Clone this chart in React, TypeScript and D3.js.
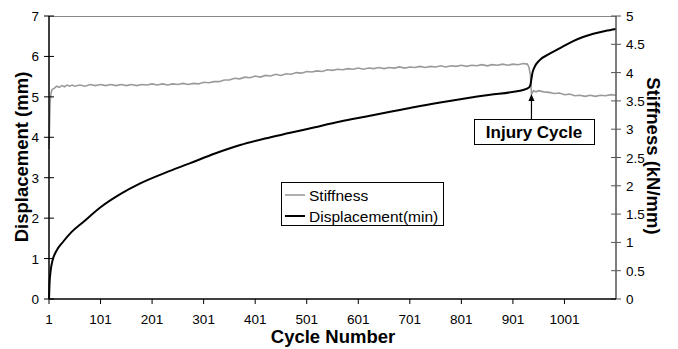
import React, { useEffect, useRef } from 'react'
import * as d3 from 'd3'

// cycle numbers shown on the x axis
const xTickLabels = [1, 101, 201, 301, 401, 501, 601, 701, 801, 901, 1001]
const leftTicks = [0, 1, 2, 3, 4, 5, 6, 7]
const rightTicks = [0, 0.5, 1, 1.5, 2, 2.5, 3, 3.5, 4, 4.5, 5]

// displacement (mm): [cycle, value]
const displacement: [number, number][] = [
  [1, 0], [2, 0.38], [4, 0.68], [8, 0.96], [15, 1.18], [28, 1.41], [45, 1.66],
  [67, 1.9], [101, 2.27], [140, 2.6], [178, 2.86], [226, 3.12], [275, 3.36],
  [323, 3.6], [372, 3.81], [420, 3.97], [469, 4.11], [517, 4.25], [566, 4.39],
  [614, 4.51], [663, 4.63], [711, 4.75], [760, 4.86], [808, 4.96], [857, 5.05],
  [900, 5.12], [921, 5.17], [932, 5.23], [935, 5.3], [937, 5.45], [939, 5.6],
  [942, 5.71], [953, 5.91], [970, 6.05], [986, 6.16], [1000, 6.26],
  [1018, 6.38], [1037, 6.48], [1057, 6.56], [1080, 6.63], [1101, 6.68],
]

// stiffness (kN/mm): [cycle, value]
const stiffness: [number, number][] = [
  [1, 2.65], [3, 3.45], [5, 3.64], [7, 3.7], [11, 3.72], [16, 3.76], [21, 3.74],
  [26, 3.77], [31, 3.75], [36, 3.78], [41, 3.76], [46, 3.78], [51, 3.76],
  [61, 3.78], [71, 3.76], [81, 3.79], [91, 3.77], [101, 3.79], [111, 3.77],
  [121, 3.79], [131, 3.77], [141, 3.79], [151, 3.77], [161, 3.79], [171, 3.77],
  [181, 3.79], [191, 3.78], [201, 3.8], [211, 3.78], [221, 3.8], [231, 3.78],
  [241, 3.8], [251, 3.79], [261, 3.81], [271, 3.79], [281, 3.81], [291, 3.8],
  [301, 3.83], [311, 3.82], [321, 3.84], [331, 3.84], [341, 3.87], [351, 3.87],
  [361, 3.9], [371, 3.89], [381, 3.92], [391, 3.91], [401, 3.94], [411, 3.92],
  [421, 3.95], [431, 3.94], [441, 3.97], [451, 3.95], [461, 3.98], [471, 3.97],
  [481, 4.0], [491, 3.99], [501, 4.02], [511, 4.01], [521, 4.03], [531, 4.02],
  [541, 4.05], [551, 4.04], [561, 4.06], [571, 4.05], [581, 4.07], [591, 4.06],
  [601, 4.08], [611, 4.06], [621, 4.08], [631, 4.07], [641, 4.09], [651, 4.07],
  [661, 4.09], [671, 4.08], [681, 4.1], [691, 4.08], [701, 4.1], [711, 4.09],
  [721, 4.11], [731, 4.09], [741, 4.11], [751, 4.1], [761, 4.12], [771, 4.1],
  [781, 4.12], [791, 4.11], [801, 4.13], [811, 4.11], [821, 4.13], [831, 4.12],
  [841, 4.14], [851, 4.12], [861, 4.14], [871, 4.13], [881, 4.15], [891, 4.13],
  [901, 4.15], [911, 4.14], [921, 4.16], [929, 4.15], [932, 4.1], [935, 3.95],
  [937, 3.62], [941, 3.68], [946, 3.66], [951, 3.68], [961, 3.66], [971, 3.65],
  [981, 3.63], [991, 3.64], [1001, 3.61], [1011, 3.62], [1021, 3.59],
  [1031, 3.6], [1041, 3.58], [1051, 3.6], [1061, 3.58], [1071, 3.6],
  [1081, 3.59], [1091, 3.61], [1101, 3.6],
]

const seriesNames = ['Stiffness', 'Displacement(min)']
const injuryCycle = 937

const W = 678
const H = 349
const margin = { top: 16, right: 62, bottom: 50, left: 49 }
const font = 'Arial, "Liberation Sans", sans-serif'

const App = () => {
  const svgRef = useRef<SVGSVGElement>(null)

  useEffect(() => {
    const svg = d3.select(svgRef.current)
    svg.selectAll('*').remove()

    const x0 = margin.left
    const x1 = W - margin.right
    const y0 = H - margin.bottom
    const y1 = margin.top

    const x = d3.scaleLinear().domain([1, 1101]).range([x0, x1])
    const yL = d3.scaleLinear().domain([0, 7]).range([y0, y1])
    const yR = d3.scaleLinear().domain([0, 5]).range([y0, y1])

    // top border
    svg.append('line')
      .attr('x1', x0).attr('x2', x1).attr('y1', y1 + 0.5).attr('y2', y1 + 0.5)
      .attr('stroke', '#888').attr('stroke-width', 1)

    // series
    const lineS = d3.line<[number, number]>().x((d) => x(d[0])).y((d) => yR(d[1]))
    const lineD = d3.line<[number, number]>()
      .x((d) => x(d[0])).y((d) => yL(d[1])).curve(d3.curveMonotoneX)

    svg.append('path').attr('d', lineS(stiffness))
      .attr('fill', 'none').attr('stroke', '#9a9a9a').attr('stroke-width', 1.6)
    svg.append('path').attr('d', lineD(displacement))
      .attr('fill', 'none').attr('stroke', '#000').attr('stroke-width', 2)

    // left axis
    const gl = svg.append('g')
    gl.append('line').attr('x1', x0).attr('x2', x0).attr('y1', y1).attr('y2', y0)
      .attr('stroke', '#000').attr('stroke-width', 1.5)
    leftTicks.forEach((t) => {
      gl.append('line').attr('x1', x0 - 5).attr('x2', x0 + 5)
        .attr('y1', yL(t)).attr('y2', yL(t)).attr('stroke', '#000')
      gl.append('text').attr('x', x0 - 10).attr('y', yL(t) + 5)
        .attr('text-anchor', 'end').style('font-family', font).style('font-size', '13.5px')
        .text(t)
    })

    // right axis
    const gr = svg.append('g')
    gr.append('line').attr('x1', x1).attr('x2', x1).attr('y1', y1).attr('y2', y0)
      .attr('stroke', '#555').attr('stroke-width', 1.5)
    rightTicks.forEach((t) => {
      gr.append('line').attr('x1', x1 - 5).attr('x2', x1 + 5)
        .attr('y1', yR(t)).attr('y2', yR(t)).attr('stroke', '#555')
      gr.append('text').attr('x', x1 + 10).attr('y', yR(t) + 5)
        .attr('text-anchor', 'start').style('font-family', font).style('font-size', '13.5px')
        .text(t)
    })

    // bottom axis
    const gb = svg.append('g')
    gb.append('line').attr('x1', x0).attr('x2', x1).attr('y1', y0).attr('y2', y0)
      .attr('stroke', '#000').attr('stroke-width', 1.5)
    xTickLabels.forEach((t) => {
      gb.append('line').attr('x1', x(t)).attr('x2', x(t))
        .attr('y1', y0).attr('y2', y0 + 5).attr('stroke', '#000')
      gb.append('text').attr('x', x(t)).attr('y', y0 + 25)
        .attr('text-anchor', 'middle').style('font-family', font).style('font-size', '13.5px')
        .text(t)
    })

    // axis titles
    svg.append('text').attr('x', 333).attr('y', 343).attr('text-anchor', 'middle')
      .style('font-family', font).style('font-size', '18.5px').style('font-weight', 'bold')
      .text('Cycle Number')
    svg.append('text').attr('transform', 'translate(28,157) rotate(-90)')
      .attr('text-anchor', 'middle')
      .style('font-family', font).style('font-size', '18.5px').style('font-weight', 'bold')
      .text('Displacement (mm)')
    svg.append('text').attr('transform', 'translate(647,156) rotate(90)')
      .attr('text-anchor', 'middle')
      .style('font-family', font).style('font-size', '18.5px').style('font-weight', 'bold')
      .text('Stiffness (kN/mm)')

    // legend
    const lg = svg.append('g')
    lg.append('rect').attr('x', 281.5).attr('y', 182.5).attr('width', 162).attr('height', 43)
      .attr('fill', '#fff').attr('stroke', '#000').attr('stroke-width', 1)
    const colors = ['#9a9a9a', '#000']
    seriesNames.forEach((name, i) => {
      const yy = 195 + i * 21
      lg.append('line').attr('x1', 285).attr('x2', 305).attr('y1', yy).attr('y2', yy)
        .attr('stroke', colors[i]).attr('stroke-width', i === 0 ? 1.6 : 2)
      lg.append('text').attr('x', 309).attr('y', yy + 5.5)
        .style('font-family', font).style('font-size', '15.5px').text(name)
    })

    // injury annotation
    const ax = x(injuryCycle)
    const ag = svg.append('g')
    ag.append('rect').attr('x', 474.5).attr('y', 119.5).attr('width', 120).attr('height', 25)
      .attr('fill', '#fff').attr('stroke', '#000').attr('stroke-width', 1)
    ag.append('text').attr('x', 534).attr('y', 138).attr('text-anchor', 'middle')
      .style('font-family', font).style('font-size', '17px').style('font-weight', 'bold')
      .text('Injury Cycle')
    ag.append('line').attr('x1', ax).attr('x2', ax).attr('y1', 119).attr('y2', 97)
      .attr('stroke', '#000').attr('stroke-width', 1.2)
    ag.append('path')
      .attr('d', `M${ax},94 L${ax - 3},101 L${ax + 3},101 Z`).attr('fill', '#000')
  }, [])

  return (
    <svg
      ref={svgRef}
      width={W}
      height={H}
      style={{ position: 'absolute', left: 0, top: 0, background: '#fff' }}
    />
  )
}

export default App
